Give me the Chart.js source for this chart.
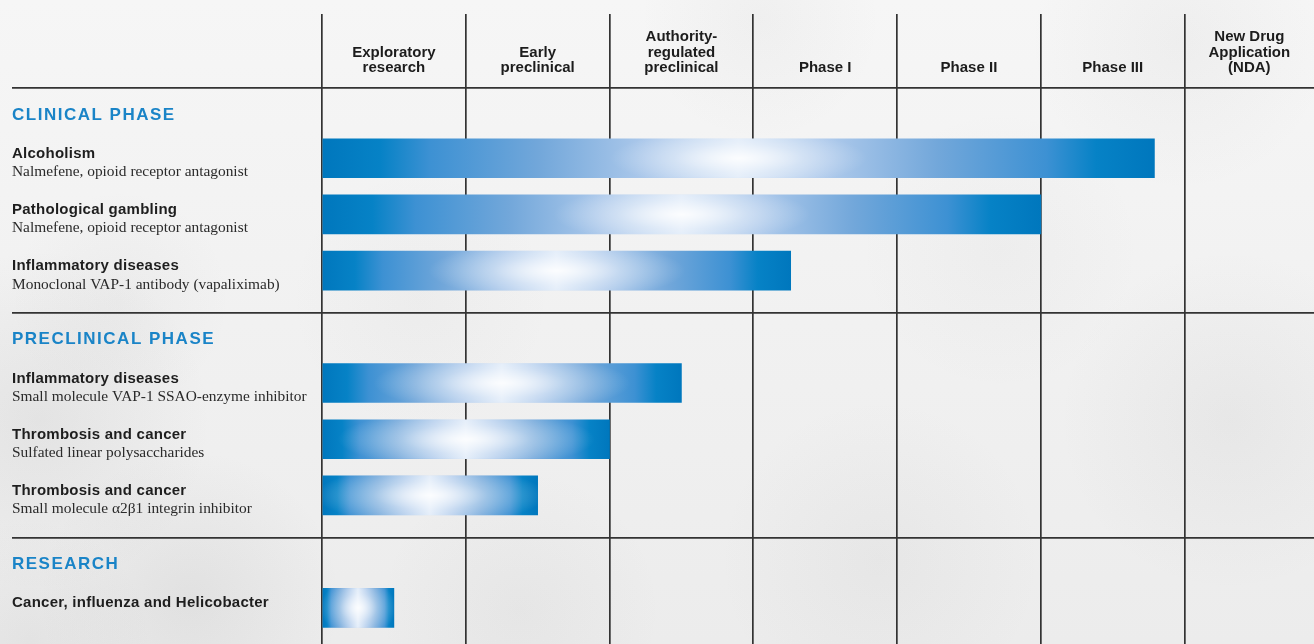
<!DOCTYPE html>
<html>
<head>
<meta charset="utf-8">
<title>Development pipeline</title>
<script src="https://cdn.jsdelivr.net/npm/chart.js@4"></script>
<style>
  html, body { margin: 0; padding: 0; background: #efefef; }
  canvas { display: block; }
</style>
</head>
<body>
<canvas id="pipeline" width="1314" height="644"></canvas>
<script>
// development stages (columns)
const stages = [
  ['Exploratory', 'research'],
  ['Early', 'preclinical'],
  ['Authority-', 'regulated', 'preclinical'],
  ['Phase I'],
  ['Phase II'],
  ['Phase III'],
  ['New Drug', 'Application', '(NDA)']
];

const sections = ['CLINICAL PHASE', 'PRECLINICAL PHASE', 'RESEARCH'];

const indications = [
  'Alcoholism',
  'Pathological gambling',
  'Inflammatory diseases',
  'Inflammatory diseases',
  'Thrombosis and cancer',
  'Thrombosis and cancer',
  'Cancer, influenza and Helicobacter'
];

const compounds = [
  'Nalmefene, opioid receptor antagonist',
  'Nalmefene, opioid receptor antagonist',
  'Monoclonal VAP-1 antibody (vapaliximab)',
  'Small molecule VAP-1 SSAO-enzyme inhibitor',
  'Sulfated linear polysaccharides',
  'Small molecule \u03b12\u03b21 integrin inhibitor',
  ''
];

// which section each project belongs to
const sectionOf = [0, 0, 0, 1, 1, 1, 2];

// how far each project has got, in stages
const progress = [5.79, 5.0, 3.26, 2.5, 2.0, 1.5, 0.5];

// rows: a heading row for every section, then its projects
const rows = [];
const rowOfProject = [];
sections.forEach((s, si) => {
  rows.push({ heading: s });
  indications.forEach((name, k) => {
    if (sectionOf[k] === si) {
      rowOfProject[k] = rows.length;
      rows.push({ project: k });
    }
  });
});
const headingRows = rows.map((r, i) => (r.heading ? i : -1)).filter(i => i >= 0);

const LINE = '#333333';
const BLUE = '#1a84c7';

// soft grey patches in the paper background: x, y, radius, opacity
const patches = [
  [40, 420, 170, 0.10], [190, 600, 150, 0.10], [30, 640, 120, 0.08],
  [520, 610, 140, 0.06], [880, 560, 160, 0.06], [1230, 420, 170, 0.07],
  [1180, 40, 150, 0.06], [760, 20, 120, 0.05], [420, 300, 130, 0.04],
  [1000, 250, 140, 0.04], [120, 300, 110, 0.05]
];

function barGradient(context) {
  const chart = context.chart;
  if (!chart.chartArea) return '#0079c1';
  const xs = chart.scales.x;
  const x0 = xs.getPixelForValue(0);
  const x1 = xs.getPixelForValue(progress[context.dataIndex]);
  const g = chart.ctx.createLinearGradient(x0, 0, x1, 0);
  g.addColorStop(0, '#0077bd');
  g.addColorStop(0.07, '#0682c6');
  g.addColorStop(0.13, '#3d91d3');
  g.addColorStop(0.26, '#72a7da');
  g.addColorStop(0.39, '#adc9eb');
  g.addColorStop(0.5, '#dde9f8');
  g.addColorStop(0.61, '#adc9eb');
  g.addColorStop(0.74, '#72a7da');
  g.addColorStop(0.87, '#3d91d3');
  g.addColorStop(0.93, '#0682c6');
  g.addColorStop(1, '#0077bd');
  return g;
}

const backdrop = {
  id: 'backdrop',
  beforeDraw(chart) {
    const { ctx, width, height } = chart;
    ctx.save();
    const g = ctx.createLinearGradient(0, 0, 0, height);
    g.addColorStop(0, '#f6f6f6');
    g.addColorStop(1, '#ececec');
    ctx.fillStyle = g;
    ctx.fillRect(0, 0, width, height);
    patches.forEach(([x, y, r, a]) => {
      const rg = ctx.createRadialGradient(x, y, 0, x, y, r);
      rg.addColorStop(0, `rgba(120,120,120,${a})`);
      rg.addColorStop(1, 'rgba(120,120,120,0)');
      ctx.fillStyle = rg;
      ctx.fillRect(x - r, y - r, 2 * r, 2 * r);
    });
    ctx.restore();
  }
};

// soft white glow in the middle of every bar
const glow = {
  id: 'glow',
  afterDatasetsDraw(chart) {
    const ctx = chart.ctx;
    chart.getDatasetMeta(0).data.forEach(bar => {
      const left = Math.min(bar.base, bar.x);
      const w = Math.abs(bar.x - bar.base);
      const h = bar.height;
      const top = bar.y - h / 2;
      ctx.save();
      ctx.beginPath();
      ctx.rect(left, top, w, h);
      ctx.clip();
      ctx.translate(left + w / 2, bar.y);
      ctx.scale(Math.max(1, Math.min(w, 240) / (h * 1.4)), 1);
      const r = h * 0.75;
      const g = ctx.createRadialGradient(0, 0, 0, 0, 0, r);
      g.addColorStop(0, 'rgba(255,255,255,0.9)');
      g.addColorStop(0.5, 'rgba(255,255,255,0.35)');
      g.addColorStop(1, 'rgba(255,255,255,0)');
      ctx.fillStyle = g;
      ctx.fillRect(-r, -r, 2 * r, 2 * r);
      ctx.restore();
    });
  }
};

// column headings and row labels
const labels = {
  id: 'labels',
  afterDraw(chart) {
    const { ctx, chartArea } = chart;
    const xs = chart.scales.x;
    const ys = chart.scales.y;
    ctx.save();

    const headerBase = ys.getPixelForValue(headingRows[0] - 0.25) - 20;
    ctx.fillStyle = '#1c1c1c';
    ctx.font = 'bold 15px "Liberation Sans", Arial, sans-serif';
    ctx.textAlign = 'center';
    ctx.textBaseline = 'middle';
    stages.forEach((lines, i) => {
      const a = xs.getPixelForValue(i);
      const b = Math.min(xs.getPixelForValue(i + 1), chartArea.right);
      const cx = (a + b) / 2;
      lines.forEach((t, j) => {
        ctx.fillText(t, cx, headerBase - (lines.length - 1 - j) * 15.5);
      });
    });

    ctx.textAlign = 'left';
    rows.forEach((r, i) => {
      const y = ys.getPixelForValue(i);
      if (r.heading) {
        ctx.fillStyle = BLUE;
        ctx.font = 'bold 17px "Liberation Sans", Arial, sans-serif';
        ctx.letterSpacing = '1.5px';
        ctx.fillText(r.heading, 12, y + 13);
      } else {
        const k = r.project;
        ctx.fillStyle = '#1e1e1e';
        ctx.font = 'bold 15px "Liberation Sans", Arial, sans-serif';
        ctx.letterSpacing = '0.25px';
        ctx.fillText(indications[k], 12, y - 4.5);
        if (compounds[k]) {
          ctx.fillStyle = '#2a2a2a';
          ctx.font = '15.4px "Liberation Serif", "Times New Roman", serif';
          ctx.letterSpacing = '0px';
          ctx.fillText(compounds[k], 12, y + 14);
        }
      }
      ctx.letterSpacing = '0px';
    });
    ctx.restore();
  }
};

new Chart(document.getElementById('pipeline'), {
  type: 'bar',
  data: {
    datasets: [{
      data: indications.map((name, k) => ({ x: progress[k], y: rowOfProject[k] })),
      backgroundColor: barGradient,
      borderWidth: 0,
      barThickness: 39
    }]
  },
  options: {
    indexAxis: 'y',
    responsive: false,
    animation: false,
    devicePixelRatio: 1,
    layout: { padding: { top: 14, left: 0, right: 0, bottom: 0 } },
    plugins: {
      legend: { display: false },
      tooltip: { enabled: false }
    },
    scales: {
      x: {
        type: 'linear',
        min: 0,
        max: 6.9,
        offset: false,
        afterBuildTicks(scale) {
          scale.ticks = stages.map((s, i) => ({ value: i }));
        },
        afterFit(scale) { scale.height = 0; },
        ticks: { display: false },
        border: { display: false },
        grid: { color: LINE, lineWidth: 1.7, drawTicks: false, offset: false }
      },
      y: {
        type: 'linear',
        reverse: true,
        min: -1.566,
        max: 9.644,
        offset: false,
        afterBuildTicks(scale) {
          scale.ticks = headingRows.map(i => ({ value: i - 0.25 }));
        },
        afterFit(scale) { scale.width = 322; },
        ticks: { display: false },
        border: { display: false },
        grid: { color: LINE, lineWidth: 1.7, offset: false, drawTicks: true, tickLength: 310, tickColor: LINE }
      }
    }
  },
  plugins: [backdrop, glow, labels]
});
</script>
</body>
</html>
